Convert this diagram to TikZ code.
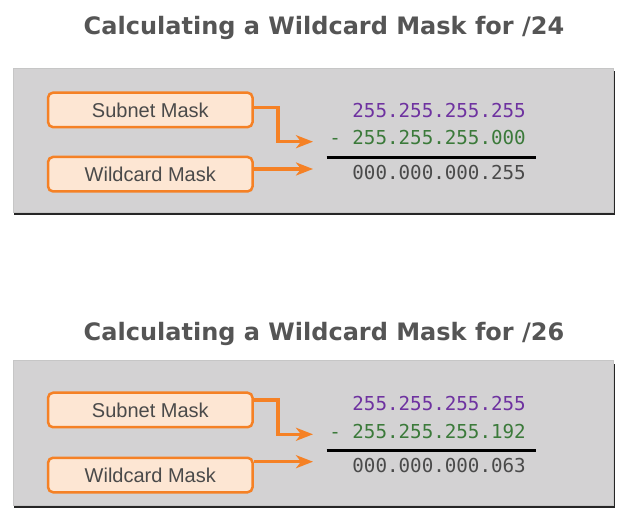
\documentclass[tikz,border=0pt]{standalone}
\usepackage{fontspec}
\setmainfont{Liberation Sans}
\newfontfamily\digitfont{DejaVu Sans Mono}
\newfontfamily\headfont{DejaVu Sans}
\usepackage{tikz}
\usetikzlibrary{arrows.meta}
\definecolor{panelgray}{HTML}{D3D2D3}
\definecolor{maskorange}{HTML}{F58125}
\definecolor{maskfill}{HTML}{FDE6D3}
\definecolor{labelgray}{HTML}{4A4A4A}
\definecolor{titlegray}{HTML}{555555}
\definecolor{numpurple}{HTML}{6E32A0}
\definecolor{numgreen}{HTML}{3B7A3A}
\tikzstyle{title} = [inner sep=0pt, text=titlegray, font=\headfont\bfseries\fontsize{24}{29}\selectfont]
\tikzstyle{maskbox} = [rectangle, rounded corners=5pt, draw=maskorange, line width=2.5pt, fill=maskfill, minimum width=204.5pt, minimum height=34.5pt, text=labelgray, font=\fontsize{20}{24}\selectfont]
\tikzstyle{maskarrow} = [draw=maskorange, line width=3.5pt, -{Stealth[length=17pt,width=13pt,inset=5pt]}]
\tikzstyle{digits} = [inner sep=0pt, anchor=base east, font=\digitfont\fontsize{19.2}{23}\selectfont]

\begin{document}
\begin{tikzpicture}[x=1pt,y=-1pt]
			\useasboundingbox (0,0) rectangle (627,521);
			% /24
			\node[title,anchor=base] (title1) at (324,35) {Calculating a Wildcard Mask for /24};
			\fill[black!85] (14,71) rectangle (614.5,215);
			\filldraw[fill=panelgray,draw=gray!45] (13,68.3) rectangle (613.5,212);
			\node[maskbox] (sub1) at (150.3,109.9) {Subnet Mask};
			\node[maskbox] (wild1) at (150.3,174.2) {Wildcard Mask};
			\node[digits,text=numpurple] (mask1) at (526,117.5) {255.255.255.255};
			\node[digits,text=numgreen] (minus1) at (526,145) {- 255.255.255.000};
			\node[digits,text=labelgray] (result1) at (526,179.3) {000.000.000.255};
			\draw[line width=2.5pt] (326.7,157.7) -- (536,157.7);
			\coordinate (s1tip) at (313,141.7);
			\coordinate (w1tip) at (313,169);
			\draw[maskarrow] ([yshift=2.6pt]sub1.east) -- ++(24.2,0) |- (s1tip);
			\draw[maskarrow] ([yshift=5.2pt]wild1.east) -- (w1tip);
			% /26
			\node[title,anchor=base] (title2) at (324,341) {Calculating a Wildcard Mask for /26};
			\fill[black!85] (14,363.7) rectangle (614.5,508);
			\filldraw[fill=panelgray,draw=gray!45] (13,360.7) rectangle (613.5,505);
			\node[maskbox] (sub2) at (150.3,410) {Subnet Mask};
			\node[maskbox] (wild2) at (150.3,475) {Wildcard Mask};
			\node[digits,text=numpurple] (mask2) at (526,410.3) {255.255.255.255};
			\node[digits,text=numgreen] (minus2) at (526,438.7) {- 255.255.255.192};
			\node[digits,text=labelgray] (result2) at (526,472) {000.000.000.063};
			\draw[line width=2.5pt] (326.7,450.7) -- (536,450.7);
			\coordinate (s2tip) at (313,434.3);
			\coordinate (w2tip) at (313,461.7);
			\draw[maskarrow] ([yshift=10pt]sub2.east) -- ++(24.2,0) |- (s2tip);
			\draw[maskarrow] ([yshift=13.3pt]wild2.east) -- (w2tip);
		\end{tikzpicture}
\end{document}
